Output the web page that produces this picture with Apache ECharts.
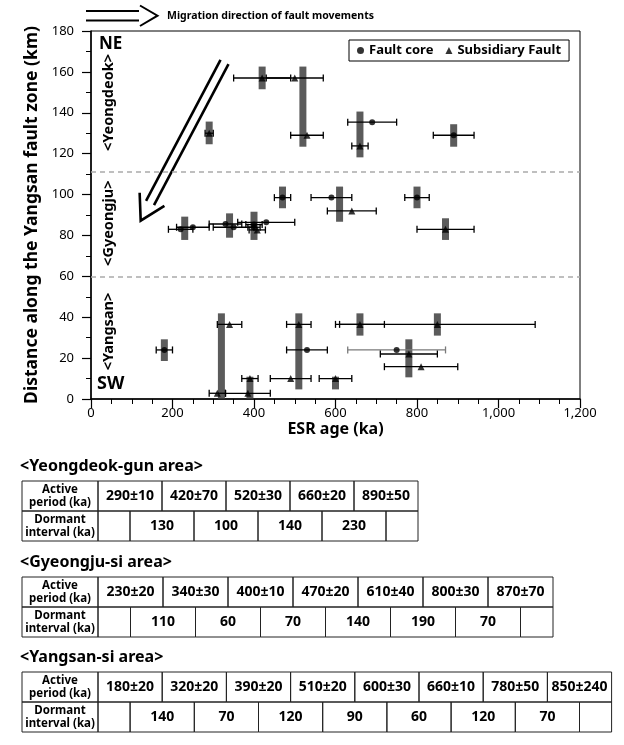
<!DOCTYPE html>
<html><head><meta charset="utf-8">
<script src="https://cdn.jsdelivr.net/npm/echarts@6/dist/echarts.min.js"></script>
<style>html,body{margin:0;padding:0;background:#fff}#c{width:624px;height:745px}</style>
</head><body><div id="c"></div>
<script>
// ---------- data ----------
const xMin = 0, xMax = 1200, xStep = 200;
const yMin = 0, yMax = 180, yStep = 20;
const areaBoundaries = [111, 60];              // km, dashed separators
const areaLabels = ['<Yeongdeok>', '<Gyeongju>', '<Yangsan>'];
const areaLabelKm = [145, 86, 33];
// fault core points: [age ka, ± ka, distance km]
const faultCore = [
  [690, 60, 135.4], [890, 50, 129],
  [220, 30, 83], [250, 40, 84], [330, 40, 85.6], [350, 50, 84], [400, 20, 85.3], [400, 15, 84],
  [430, 70, 86.4], [470, 20, 98.5], [590, 50, 98.5], [800, 30, 98.5],
  [180, 20, 24], [530, 50, 24]
];
const faultCoreGrey = [[750, 120, 24]];
// subsidiary fault points: [age ka, ± ka, distance km]
const subsidiary = [
  [290, 10, 130], [420, 70, 157], [500, 70, 157], [530, 40, 129], [660, 20, 123.8],
  [408, 20, 82.7], [640, 60, 92], [870, 70, 83],
  [340, 30, 36.5], [310, 20, 2.8], [390, 20, 10], [385, 55, 2.8], [510, 30, 36.5], [490, 50, 10],
  [600, 40, 10], [660, 60, 36.5], [850, 240, 36.5], [780, 70, 22], [810, 90, 15.8]
];
// active periods (grey bars): [age ka, km low, km high]
const activeBars = [
  [290, 124.6, 135.7], [420, 151.5, 162.6], [520, 123.4, 162.6], [660, 118.2, 140.6], [890, 123.4, 134.4],
  [230, 77.8, 89.2], [340, 78.9, 90.8], [400, 77.8, 91.6], [470, 93.3, 103.9], [610, 86.7, 103.9], [800, 93.3, 103.9], [870, 77.8, 88.4],
  [180, 18.6, 29.2], [320, 0.3, 41.9], [390, 0.3, 10.9], [510, 4.7, 41.9], [600, 4.7, 10.9], [660, 31, 41.9], [780, 10.6, 29.2], [850, 31, 41.9]
];
// tables
const tableTitles = ['<Yeongdeok-gun area>', '<Gyeongju-si area>', '<Yangsan-si area>'];
const yeongdeokActive = ['290±10', '420±70', '520±30', '660±20', '890±50'];
const yeongdeokDormant = ['130', '100', '140', '230'];
const gyeongjuActive = ['230±20', '340±30', '400±10', '470±20', '610±40', '800±30', '870±70'];
const gyeongjuDormant = ['110', '60', '70', '140', '190', '70'];
const yangsanActive = ['180±20', '320±20', '390±20', '510±20', '600±30', '660±10', '780±50', '850±240'];
const yangsanDormant = ['140', '70', '120', '90', '60', '120', '70'];
const rowHeads = ['Active\nperiod (ka)', 'Dormant\ninterval (ka)'];

// ---------- chart ----------
const FONT = '"Noto Sans", "DejaVu Sans", sans-serif';
const chart = echarts.init(document.getElementById('c'), null, {renderer: 'canvas'});

function errRenderer(color) {
  return function (params, api) {
    const x = api.value(0), e = api.value(1), y = api.value(2);
    const a = api.coord([x - e, y]), b = api.coord([x + e, y]);
    const c = 3.5, st = {stroke: color, lineWidth: 1.3};
    return {type: 'group', children: [
      {type: 'line', shape: {x1: a[0], y1: a[1], x2: b[0], y2: b[1]}, style: st},
      {type: 'line', shape: {x1: a[0], y1: a[1] - c, x2: a[0], y2: a[1] + c}, style: st},
      {type: 'line', shape: {x1: b[0], y1: b[1] - c, x2: b[0], y2: b[1] + c}, style: st}
    ]};
  };
}

function tableEls(title, active, dormant, top, colW) {
  const els = [];
  const left = 22, headW = 76, rowH = 30;
  const lineSt = {stroke: '#222', lineWidth: 1, fill: 'none'};
  const txt = (x, y, t, size) => ({type: 'text', x: x, y: y, style: {text: t, x: 0, y: 0, align: 'center', verticalAlign: 'middle', font: 'bold ' + size + 'px ' + FONT, fill: '#000', lineHeight: size + 1}});
  els.push({type: 'text', x: 20, y: top - 15, style: {text: title, font: 'bold 16px ' + FONT, fill: '#000', verticalAlign: 'middle', align: 'left'}});
  const rect = (x, y, w, h) => ({type: 'rect', shape: {x: x, y: y, width: w, height: h}, style: lineSt});
  els.push(rect(left, top, headW, rowH));
  els.push(txt(left + headW / 2, top + rowH / 2, rowHeads[0], 11.5));
  active.forEach((v, i) => {
    const x = left + headW + i * colW;
    els.push(rect(x, top, colW, rowH));
    els.push(txt(x + colW / 2, top + rowH / 2, v, 14));
  });
  const y2 = top + rowH;
  els.push(rect(left, y2, headW, rowH));
  els.push(txt(left + headW / 2, y2 + rowH / 2, rowHeads[1], 11.5));
  els.push(rect(left + headW, y2, colW / 2, rowH));
  dormant.forEach((v, i) => {
    const x = left + headW + colW / 2 + i * colW;
    els.push(rect(x, y2, colW, rowH));
    els.push(txt(x + colW / 2, y2 + rowH / 2, v, 14));
  });
  els.push(rect(left + headW + colW / 2 + dormant.length * colW, y2, colW / 2, rowH));
  return els;
}

function bigArrow() {
  const topC = [224.5, 62], tip = [140.7, 220.7];
  const dx = tip[0] - topC[0], dy = tip[1] - topC[1], L = Math.hypot(dx, dy);
  const u = [dx / L, dy / L], n = [-u[1], u[0]];
  const end = [tip[0] - u[0] * 20, tip[1] - u[1] * 20];
  const off = 4.5, st = {stroke: '#000', lineWidth: 2.6, fill: 'none'};
  const els = [];
  [-1, 1].forEach(s => els.push({type: 'line', shape: {x1: topC[0] + s * n[0] * off, y1: topC[1] + s * n[1] * off, x2: end[0] + s * n[0] * off, y2: end[1] + s * n[1] * off}, style: st}));
  const back = [-u[0], -u[1]], ang = Math.PI / 6, al = 28;
  const rot = (v, a) => [v[0] * Math.cos(a) - v[1] * Math.sin(a), v[0] * Math.sin(a) + v[1] * Math.cos(a)];
  const r1 = rot(back, ang), r2 = rot(back, -ang);
  els.push({type: 'polyline', shape: {points: [[tip[0] + r1[0] * al, tip[1] + r1[1] * al], tip, [tip[0] + r2[0] * al, tip[1] + r2[1] * al]]}, style: st});
  return els;
}

const graphics = [].concat(
  [{type: 'line', shape: {x1: 86, y1: 11, x2: 139, y2: 11}, style: {stroke: '#000', lineWidth: 2}},
   {type: 'line', shape: {x1: 86, y1: 20.5, x2: 139, y2: 20.5}, style: {stroke: '#000', lineWidth: 2}},
   {type: 'polyline', shape: {points: [[140, 5.5], [157.5, 15.7], [140, 26]]}, style: {stroke: '#000', lineWidth: 2, fill: 'none'}},
   {type: 'text', x: 167, y: 16, style: {text: 'Migration direction of fault movements', font: 'bold 10.5px ' + FONT, fill: '#000', verticalAlign: 'middle'}}],
  bigArrow(),
  tableEls(tableTitles[0], yeongdeokActive, yeongdeokDormant, 481, 64),
  tableEls(tableTitles[1], gyeongjuActive, gyeongjuDormant, 577, 65),
  tableEls(tableTitles[2], yangsanActive, yangsanDormant, 672, 64.2)
);

const plotText = [
  {type: 'text', x: 99, y: 44, style: {text: 'NE', font: 'bold 17px ' + FONT, fill: '#000', verticalAlign: 'middle'}},
  {type: 'text', x: 97, y: 384, style: {text: 'SW', font: 'bold 18px ' + FONT, fill: '#000', verticalAlign: 'middle'}}
];

const option = {
  animation: false,
  backgroundColor: '#fff',
  grid: {left: 91, top: 31, width: 489, height: 368, show: true, borderColor: '#000', borderWidth: 1, outerBoundsMode: 'none'},
  legend: {
    left: 349, top: 40, padding: [4, 8], itemGap: 12, itemWidth: 7, itemHeight: 7,
    borderColor: '#000', borderWidth: 1, backgroundColor: '#fff',
    textStyle: {fontFamily: FONT, fontWeight: 'bold', fontSize: 13, color: '#000'},
    data: [{name: 'Fault core', icon: 'circle'}, {name: 'Subsidiary Fault', icon: 'triangle'}]
  },
  xAxis: {
    type: 'value', min: xMin, max: xMax, interval: xStep,
    name: 'ESR age (ka)', nameLocation: 'middle', nameGap: 22,
    nameTextStyle: {fontFamily: FONT, fontWeight: 'bold', fontSize: 16, color: '#000'},
    axisLine: {lineStyle: {color: '#000', width: 1.5}},
    axisTick: {show: true, length: 9, lineStyle: {color: '#000', width: 1.2}},
    minorTick: {show: true, splitNumber: 4, length: 5, lineStyle: {color: '#000', width: 1}},
    splitLine: {show: false},
    axisLabel: {margin: 8, fontFamily: FONT, fontSize: 13, color: '#000',
      formatter: v => String(v).replace(/\B(?=(\d{3})+(?!\d))/g, ',')}
  },
  yAxis: {
    type: 'value', min: yMin, max: yMax, interval: yStep,
    name: 'Distance along the Yangsan fault zone (km)', nameLocation: 'middle', nameGap: 50,
    nameTextStyle: {fontFamily: FONT, fontWeight: 'bold', fontSize: 17.5, color: '#000'},
    axisLine: {lineStyle: {color: '#000', width: 1.5}},
    axisTick: {show: true, length: 9, lineStyle: {color: '#000', width: 1.2}},
    minorTick: {show: true, splitNumber: 2, length: 5, lineStyle: {color: '#000', width: 1}},
    splitLine: {show: false},
    axisLabel: {margin: 17, fontFamily: FONT, fontSize: 13, color: '#000'}
  },
  graphic: graphics.concat(plotText),
  series: [
    {type: 'custom', name: 'active', silent: true, z: 2,
     renderItem: (p, api) => {
       const x = api.value(0), t = api.coord([x, api.value(2)]), b = api.coord([x, api.value(1)]);
       return {type: 'rect', shape: {x: t[0] - 3.5, y: t[1], width: 7, height: b[1] - t[1]}, style: {fill: '#5b5b5b'}};
     },
     encode: {x: 0, y: [1, 2]}, data: activeBars,
     markLine: {silent: true, symbol: ['none', 'none'], label: {show: false},
       lineStyle: {color: '#aaa', width: 1.5, type: [5, 4]},
       data: areaBoundaries.map(v => ({yAxis: v}))}},
    {type: 'custom', name: 'errCore', silent: true, z: 3, renderItem: errRenderer('#000'), encode: {x: 0, y: 2}, data: faultCore},
    {type: 'custom', name: 'errCoreGrey', silent: true, z: 3, renderItem: errRenderer('#7a7a7a'), encode: {x: 0, y: 2}, data: faultCoreGrey},
    {type: 'custom', name: 'errSub', silent: true, z: 3, renderItem: errRenderer('#000'), encode: {x: 0, y: 2}, data: subsidiary},
    {type: 'scatter', name: 'Fault core', z: 4, symbol: 'circle', symbolSize: 6, itemStyle: {color: '#000'},
     data: faultCore.concat(faultCoreGrey).map(d => [d[0], d[2]])},
    {type: 'scatter', name: 'Subsidiary Fault', z: 4, symbol: 'triangle', symbolSize: 7, itemStyle: {color: '#000'},
     data: subsidiary.map(d => [d[0], d[2]])}
  ]
};
chart.setOption(option);
// rotated area labels placed through the y-axis scale
const areaEls = areaLabels.map((t, i) => ({
  type: 'text', id: 'area' + i, x: 109, y: chart.convertToPixel({yAxisIndex: 0}, areaLabelKm[i]),
  rotation: Math.PI / 2,
  style: {text: t, fontFamily: FONT, fontWeight: 'bold', fontSize: 14.5, fill: '#000', align: 'center', verticalAlign: 'middle'}
}));
chart.setOption({graphic: graphics.concat(plotText, areaEls)}, {replaceMerge: ['graphic']});
</script>
</body></html>
